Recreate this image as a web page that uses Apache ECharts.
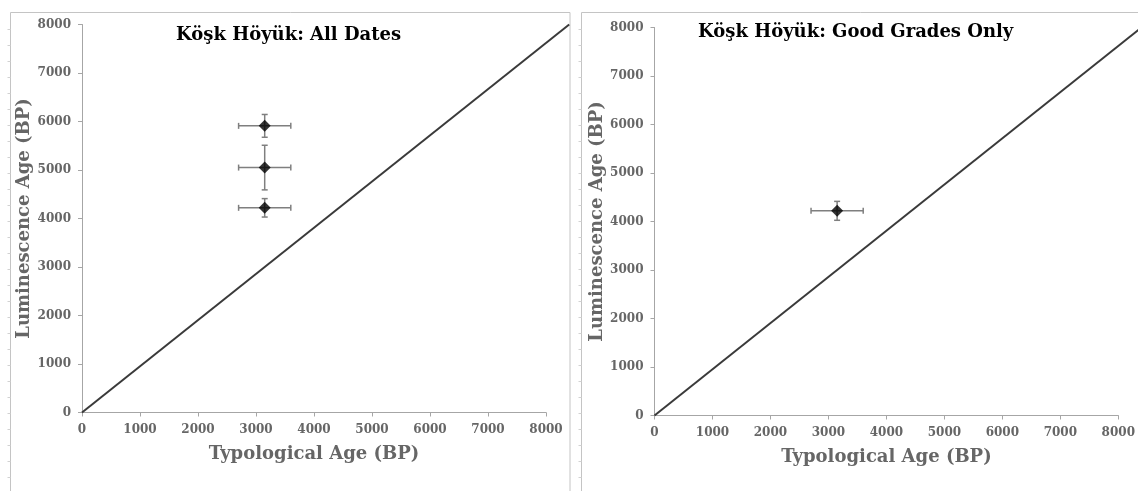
<!DOCTYPE html>
<html>
<head>
<meta charset="utf-8">
<script src="https://cdn.jsdelivr.net/npm/echarts@6/dist/echarts.min.js"></script>
<style>
  html, body { margin: 0; padding: 0; background: #fff; }
  #chart { width: 1138px; height: 491px; }
</style>
</head>
<body>
<div id="chart"></div>
<script>
// all dates (left panel)
const allX = [3150, 3150, 3150];
const allY = [5910, 5050, 4220];
const allXErr = [450, 450, 450];
const allYErr = [235, 460, 190];

// good grades only (right panel)
const goodX = [3150];
const goodY = [4220];
const goodXErr = [450];
const goodYErr = [195];

// reference line, runs past the axis end like in the original
const refX = [0, 8400];
const refY = [0, 8000];

const titles = ['Köşk Höyük: All Dates', 'Köşk Höyük: Good Grades Only'];

const FONT = '"DejaVu Serif", serif';
const LABEL_GRAY = '#666';

const chart = echarts.init(document.getElementById('chart'));

function xAxisFor(idx) {
  return {
    gridIndex: idx,
    type: 'value',
    min: 0,
    max: 8000,
    interval: 1000,
    name: 'Typological Age (BP)',
    nameLocation: 'middle',
    nameGap: 33,
    nameTextStyle: { fontFamily: FONT, fontWeight: 'bold', fontSize: 18, color: '#666' },
    axisLine: { show: true, lineStyle: { color: '#a6a6a6', width: 1 } },
    axisTick: { show: true, inside: false, length: 4, lineStyle: { color: '#a6a6a6' } },
    axisLabel: { fontFamily: FONT, fontWeight: 'bold', fontSize: 12, color: LABEL_GRAY, margin: 11, formatter: v => String(v) },
    splitLine: { show: false }
  };
}

function yAxisFor(idx) {
  return {
    gridIndex: idx,
    type: 'value',
    min: 0,
    max: 8000,
    interval: 1000,
    name: 'Luminescence Age (BP)',
    nameLocation: 'middle',
    nameGap: 40,
    nameTextStyle: { fontFamily: FONT, fontWeight: 'bold', fontSize: 18, color: '#666' },
    axisLine: { show: true, lineStyle: { color: '#a6a6a6', width: 1 } },
    axisTick: { show: true, inside: false, length: 4, lineStyle: { color: '#a6a6a6' } },
    axisLabel: { fontFamily: FONT, fontWeight: 'bold', fontSize: 12, color: LABEL_GRAY, margin: 11, formatter: v => String(v) },
    splitLine: { show: false }
  };
}

function errorBars(params, api) {
  const x = api.value(0), y = api.value(1);
  const ex = api.value(2), ey = api.value(3);
  const l = api.coord([x - ex, y]);
  const r = api.coord([x + ex, y]);
  const t = api.coord([x, y + ey]);
  const b = api.coord([x, y - ey]);
  const cap = 3;
  const style = { stroke: '#7f7f7f', lineWidth: 1.5 };
  const seg = (x1, y1, x2, y2) => ({ type: 'line', shape: { x1, y1, x2, y2 }, style });
  return {
    type: 'group',
    children: [
      seg(l[0], l[1], r[0], r[1]),
      seg(l[0], l[1] - cap, l[0], l[1] + cap),
      seg(r[0], r[1] - cap, r[0], r[1] + cap),
      seg(t[0], t[1], b[0], b[1]),
      seg(t[0] - cap, t[1], t[0] + cap, t[1]),
      seg(b[0] - cap, b[1], b[0] + cap, b[1])
    ]
  };
}

function refLine(params, api) {
  const a = api.coord([api.value(0), api.value(1)]);
  const b = api.coord([api.value(2), api.value(3)]);
  return {
    type: 'line',
    shape: { x1: a[0], y1: a[1], x2: b[0], y2: b[1] },
    style: { stroke: '#3a3a3a', lineWidth: 2 }
  };
}

function panelSeries(idx, xs, ys, xe, ye) {
  return [
    {
      type: 'custom',
      xAxisIndex: idx,
      yAxisIndex: idx,
      renderItem: refLine,
      clip: false,
      silent: true,
      encode: { x: [0, 2], y: [1, 3] },
      data: [[refX[0], refY[0], refX[1], refY[1]]],
      z: 2
    },
    {
      type: 'custom',
      xAxisIndex: idx,
      yAxisIndex: idx,
      renderItem: errorBars,
      encode: { x: 0, y: 1 },
      data: xs.map((v, i) => [v, ys[i], xe[i], ye[i]]),
      z: 3
    },
    {
      type: 'scatter',
      xAxisIndex: idx,
      yAxisIndex: idx,
      symbol: 'diamond',
      symbolSize: 12,
      itemStyle: { color: '#000' },
      data: xs.map((v, i) => [v, ys[i]]),
      z: 4
    }
  ];
}

// faint frame round each panel, with the little ruler ticks on the edges
const graphics = [
  { type: 'rect', shape: { x: 10.5, y: 12.5, width: 559.5, height: 490 }, style: { fill: 'none', stroke: '#c4c4c4', lineWidth: 1 }, silent: true },
  { type: 'rect', shape: { x: 581.5, y: 12.5, width: 570, height: 490 }, style: { fill: 'none', stroke: '#c4c4c4', lineWidth: 1 }, silent: true }
];
[10.5, 581.5].forEach(function (edge) {
  for (let y = 29; y < 491; y += 16) {
    graphics.push({ type: 'line', shape: { x1: edge - 3, y1: y + 0.5, x2: edge, y2: y + 0.5 }, style: { stroke: '#d2d2d2', lineWidth: 1 }, silent: true });
  }
});

chart.setOption({
  backgroundColor: '#fff',
  animation: false,
  title: [
    { text: titles[0], left: 176, top: 26, padding: 0, textStyle: { fontFamily: FONT, fontWeight: 'bold', fontSize: 18, color: '#000' } },
    { text: titles[1], left: 698, top: 23, padding: 0, textStyle: { fontFamily: FONT, fontWeight: 'bold', fontSize: 18, color: '#000' } }
  ],
  grid: [
    { left: 82, top: 24.5, width: 464, height: 388 },
    { left: 654.5, top: 27.5, width: 464, height: 388 }
  ],
  xAxis: [xAxisFor(0), xAxisFor(1)],
  yAxis: [yAxisFor(0), yAxisFor(1)],
  series: [].concat(
    panelSeries(0, allX, allY, allXErr, allYErr),
    panelSeries(1, goodX, goodY, goodXErr, goodYErr)
  ),
  graphic: graphics
});
</script>
</body>
</html>
